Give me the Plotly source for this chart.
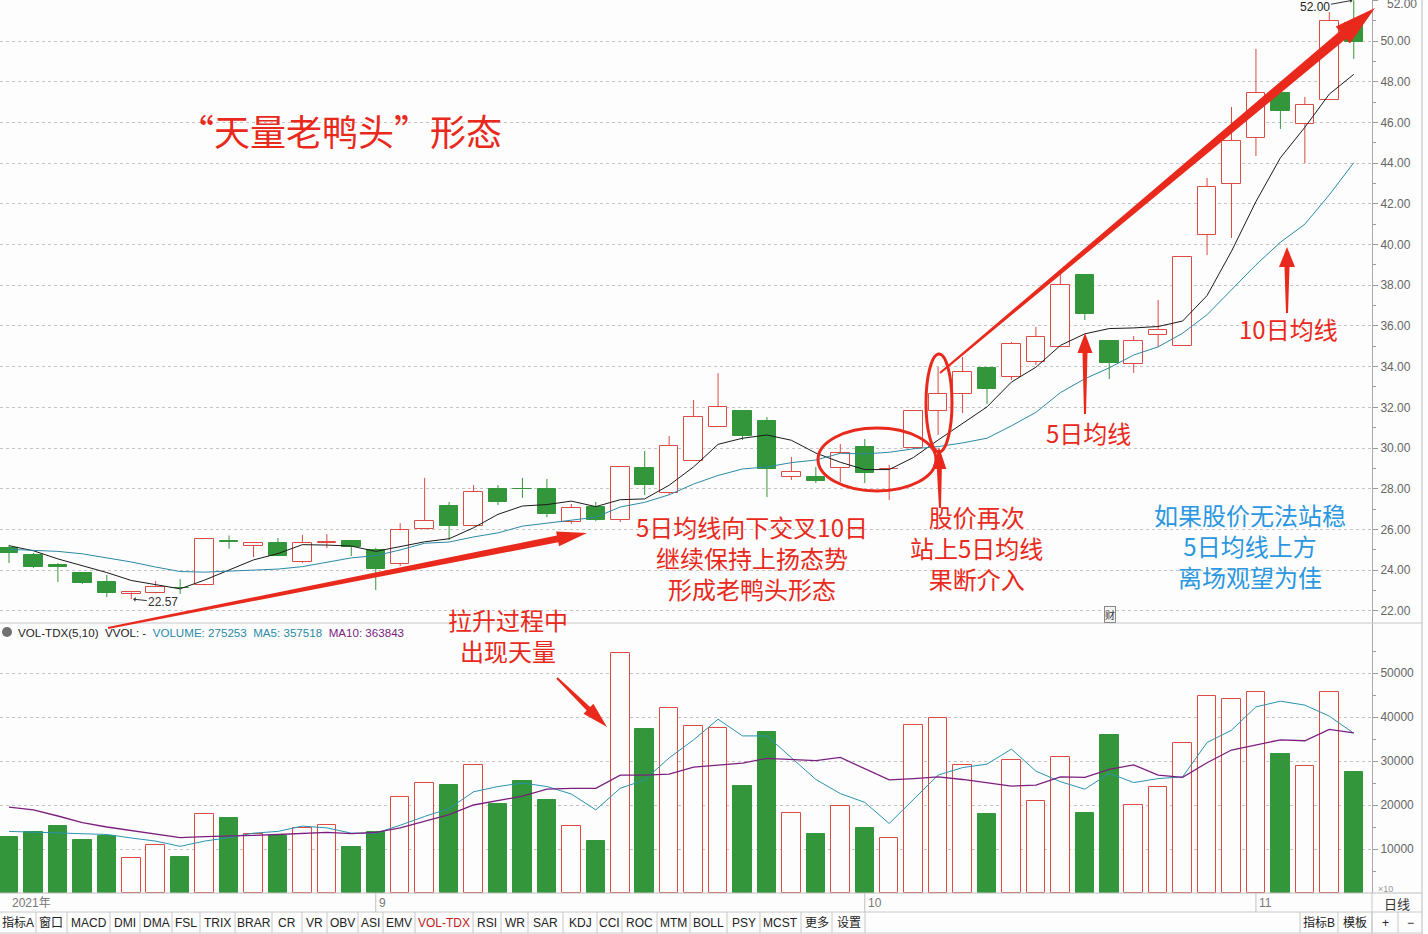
import math
import plotly.graph_objects as go

# ---------------- data ----------------
opens = [25.09, 24.74, 24.25, 23.86, 23.42, 22.85, 22.87, 23.14, 23.27, 25.40,
         25.18, 25.33, 24.40, 25.35, 25.43, 24.99, 24.30, 26.02, 27.15, 26.17,
         27.99, 28.00, 27.99, 26.36, 27.10, 26.46, 29.02, 27.79, 29.36, 31.03,
         31.82, 31.33, 28.58, 28.58, 29.02, 30.05, 28.95, 30.00, 31.82, 32.65,
         33.93, 33.49, 34.23, 34.96, 38.50, 35.26, 34.13, 35.55, 35.01, 40.47,
         42.97, 45.23, 47.44, 45.92, 47.10, 50.88]
highs = [25.23, 24.84, 24.35, 23.91, 23.76, 22.95, 23.47, 23.56, 25.55, 25.70,
         25.38, 25.58, 25.73, 25.77, 25.45, 25.10, 26.30, 28.53, 27.35, 28.18,
         28.18, 28.53, 28.48, 27.25, 27.35, 29.10, 29.85, 30.59, 32.36, 33.68,
         31.85, 31.52, 29.56, 29.07, 30.20, 30.44, 29.17, 31.87, 33.98, 34.47,
         33.95, 35.21, 35.95, 38.55, 38.52, 35.28, 35.50, 37.27, 39.39, 43.27,
         46.76, 49.61, 47.84, 47.25, 51.43, 52.00]
lows = [24.35, 24.10, 23.42, 23.32, 22.68, 22.57, 22.85, 22.83, 23.25, 25.05,
        24.64, 24.69, 24.35, 25.08, 24.69, 23.02, 24.20, 26.00, 25.48, 26.15,
        27.20, 27.55, 26.60, 26.27, 26.40, 26.36, 27.69, 27.69, 29.36, 31.03,
        30.39, 27.59, 28.43, 28.28, 28.33, 28.28, 27.44, 29.95, 30.64, 31.72,
        32.16, 33.34, 34.08, 34.96, 36.29, 33.39, 33.69, 34.96, 35.01, 39.48,
        40.32, 44.35, 45.68, 44.00, 47.10, 49.12]
closes = [24.84, 24.15, 24.15, 23.37, 22.87, 22.90, 23.17, 23.10, 25.53, 25.38,
          25.33, 24.69, 25.33, 25.40, 25.13, 24.05, 25.95, 26.41, 26.17, 27.84,
          27.35, 27.97, 26.76, 27.05, 26.46, 29.07, 28.18, 30.10, 31.52, 32.01,
          30.59, 28.97, 28.82, 28.38, 29.75, 28.77, 28.98, 31.82, 32.65, 33.73,
          32.90, 35.11, 35.45, 38.01, 36.58, 34.18, 35.26, 35.80, 39.39, 42.83,
          45.09, 47.44, 46.56, 46.86, 50.98, 49.95]
ma5 = [25.20, 24.95, 24.55, 24.20, 23.88, 23.49, 23.29, 23.08, 23.51, 24.02,
       24.50, 24.81, 25.25, 25.23, 25.18, 24.92, 25.17, 25.39, 25.54, 26.08,
       26.74, 27.15, 27.22, 27.39, 27.12, 27.46, 27.50, 28.17, 29.07, 30.18,
       30.48, 30.64, 30.38, 29.75, 29.30, 28.94, 28.94, 29.54, 30.39, 31.19,
       32.02, 33.24, 33.97, 35.04, 35.61, 35.87, 35.90, 35.97, 36.24, 37.49,
       39.67, 42.11, 44.26, 45.76, 47.39, 48.36]
ma10 = [25.02, 24.98, 24.92, 24.80, 24.60, 24.40, 24.15, 23.93, 23.90, 23.95,
        24.00, 24.05, 24.17, 24.37, 24.60, 24.71, 24.99, 25.32, 25.38, 25.63,
        25.83, 26.16, 26.30, 26.47, 26.60, 27.10, 27.33, 27.70, 28.23, 28.65,
        28.97, 29.07, 29.28, 29.41, 29.74, 29.71, 29.79, 29.96, 30.07, 30.25,
        30.48, 31.09, 31.75, 32.72, 33.40, 33.94, 34.57, 34.97, 35.64, 36.55,
        37.77, 39.00, 40.11, 41.00, 42.44, 44.02]
volumes = [12700, 13900, 15200, 12000, 13000, 8000, 10900, 8200, 18000, 17000,
           13400, 13000, 14800, 15500, 10500, 13900, 21800, 25000, 24500, 29100,
           20200, 25500, 21100, 15200, 11800, 54500, 37300, 42000, 37900, 37400,
           24300, 36600, 18100, 13400, 19800, 14800, 12400, 38100, 39700, 29200,
           18000, 30200, 20800, 30800, 18200, 35900, 20000, 24100, 34200, 44700,
           44100, 45600, 31600, 28800, 45600, 27500]
vol_ma5 = [14000, 13800, 13600, 13400, 13300, 12500, 11800, 10600, 11800, 12600,
           13600, 14000, 15200, 14800, 13600, 13600, 15400, 17400, 19200, 23000,
           24200, 25000, 24200, 22500, 18900, 23800, 25700, 30700, 34800, 39500,
           35700, 35700, 30700, 25800, 22600, 20600, 15800, 21300, 26800, 28500,
           29300, 32700, 27700, 25300, 23600, 27200, 25100, 26000, 26400, 34200,
           37000, 42300, 43600, 42700, 40200, 36300]
vol_ma10 = [19500, 18900, 17500, 16000, 15000, 14200, 13500, 12600, 12800, 12900,
            13100, 13300, 13600, 13800, 13500, 13800, 14800, 16300, 17800, 20000,
            21000, 22000, 23600, 23800, 23800, 26800, 26800, 27000, 28600, 29100,
            29500, 30600, 30400, 30100, 30800, 28300, 25700, 26000, 26400, 25800,
            25100, 24300, 24500, 26400, 26300, 28100, 29100, 26800, 26300, 29600,
            32500, 33600, 34800, 34600, 37200, 36400]
month_tick_index = [15, 35, 51]
month_tick_text = ["9", "10", "11"]
price_ticks = [22, 24, 26, 28, 30, 32, 34, 36, 38, 40, 42, 44, 46, 48, 50, 52]
vol_ticks = [10000, 20000, 30000, 40000, 50000]
toolbar_left = ["指标A", "窗口", "MACD", "DMI", "DMA", "FSL", "TRIX", "BRAR", "CR", "VR",
                "OBV", "ASI", "EMV", "VOL-TDX", "RSI", "WR", "SAR", "KDJ", "CCI", "ROC",
                "MTM", "BOLL", "PSY", "MCST", "更多", "设置"]
toolbar_right = ["指标B", "模板", "+", "−"]
legend_text = ("VOL-TDX(5,10)  VVOL: -  <span style='color:#2a8aa6'>VOLUME: 275253  MA5: 357518</span>"
               "  <span style='color:#7b1f7e'>MA10: 363843</span>")

# ---------------- layout constants ----------------
W, H = 1372.0, 893.0          # plot area in px
SPLIT = 622.0                 # price / volume border (px from top)
RED = "#dc4a44"
GREEN = "#33963a"
TXT_RED = "#e8291c"
BG = "#fdfdfd"
n = len(closes)
idx = list(range(n))


def P(px, py):
    return px / W, 1 - py / H


# ---------------- traces ----------------
up = [c >= o for o, c in zip(opens, closes)]
body_base = [min(o, c) for o, c in zip(opens, closes)]
body_h = [max(abs(c - o), 0.03) for o, c in zip(opens, closes)]
fills = [BG if u else GREEN for u in up]
edges = [RED if u else GREEN for u in up]

fig = go.Figure()

for want_up, col in [(True, RED), (False, GREEN)]:
    xs, ys = [], []
    for i in idx:
        if up[i] != want_up:
            continue
        top, bot = max(opens[i], closes[i]), min(opens[i], closes[i])
        xs += [i, i, None, i, i, None]
        ys += [highs[i], top, None, bot, lows[i], None]
    fig.add_trace(go.Scatter(x=xs, y=ys, mode="lines", line=dict(color=col, width=1),
                             xaxis="x", yaxis="y", hoverinfo="skip"))

fig.add_trace(go.Bar(x=idx, y=body_h, base=body_base, width=0.757,
                     marker=dict(color=fills, line=dict(color=edges, width=1)),
                     xaxis="x", yaxis="y"))
fig.add_trace(go.Scatter(x=idx, y=ma5, mode="lines", line=dict(color="#1a1a1a", width=1),
                         xaxis="x", yaxis="y"))
fig.add_trace(go.Scatter(x=idx, y=ma10, mode="lines", line=dict(color="#2a8aa6", width=1),
                         xaxis="x", yaxis="y"))

fig.add_trace(go.Bar(x=idx, y=volumes, width=0.757,
                     marker=dict(color=fills, line=dict(color=edges, width=1)),
                     xaxis="x2", yaxis="y2"))
fig.add_trace(go.Scatter(x=idx, y=vol_ma5, mode="lines", line=dict(color="#2a93b0", width=1),
                         xaxis="x2", yaxis="y2"))
fig.add_trace(go.Scatter(x=idx, y=vol_ma10, mode="lines", line=dict(color="#7b1f7e", width=1.3),
                         xaxis="x2", yaxis="y2"))

# ---------------- axes ----------------
x_lo = -9 / 24.45
x_hi = (W - 9) / 24.45
p_top = 50 + 41 / 20.35
p_bot = 50 - (SPLIT - 41) / 20.35
v_top = (H - SPLIT) / 4.4 * 1000
split_frac = 1 - SPLIT / H

axis_common = dict(showgrid=True, gridcolor="#c4c4c4", griddash="dot", gridwidth=1,
                   side="right", ticks="outside", ticklen=5, tickcolor="#9a9a9a",
                   showline=True, linecolor="#a8a8a8", linewidth=1, zeroline=False,
                   tickfont=dict(size=12, color="#666", family="Liberation Sans, Arial"))

fig.update_layout(
    width=1428, height=934,
    margin=dict(l=0, r=56, t=0, b=41, autoexpand=False),
    paper_bgcolor=BG, plot_bgcolor=BG,
    showlegend=False, barmode="overlay", bargap=0, hovermode=False,
    font=dict(family="Liberation Sans, Noto Sans CJK SC", color="#333"),
    xaxis=dict(domain=[0, 1], range=[x_lo, x_hi], anchor="y", showticklabels=False,
               showgrid=False, zeroline=False, ticks=""),
    xaxis2=dict(domain=[0, 1], range=[x_lo, x_hi], anchor="y2", matches="x",
                showticklabels=False, showgrid=False, zeroline=False, ticks=""),
    yaxis=dict(domain=[split_frac, 1], range=[p_bot, p_top], anchor="x",
               tickmode="array", tickvals=price_ticks, tickformat=".2f",
               minor=dict(tickmode="array", tickvals=[t + 1 for t in price_ticks[:-1]],
                          ticks="outside", ticklen=3, tickcolor="#9a9a9a", showgrid=False),
               **axis_common),
    yaxis2=dict(domain=[0, split_frac], range=[0, v_top], anchor="x2",
                tickmode="array", tickvals=vol_ticks, tickformat="d",
                minor=dict(tickmode="array", tickvals=[t - 5000 for t in vol_ticks] + [55000],
                           ticks="outside", ticklen=3, tickcolor="#9a9a9a", showgrid=False),
                **axis_common),
)

shapes = []
annotations = []


def hline(py, x0=0, x1=1422, color="#bdbdbd", width=1):
    a, b = P(x0, py)
    c, _ = P(x1, py)
    shapes.append(dict(type="line", xref="paper", yref="paper", x0=a, x1=c, y0=b, y1=b,
                       line=dict(color=color, width=width)))


def vline(px, y0, y1, color="#bdbdbd", width=1):
    a, b = P(px, y0)
    _, d = P(px, y1)
    shapes.append(dict(type="line", xref="paper", yref="paper", x0=a, x1=a, y0=b, y1=d,
                       line=dict(color=color, width=width)))


def arrow(tail, tip, w0, w1, hw, hl, color=TXT_RED):
    dx, dy = tip[0] - tail[0], tip[1] - tail[1]
    L = math.hypot(dx, dy)
    ux, uy = dx / L, dy / L
    nx, ny = -uy, ux
    bx, by = tip[0] - ux * hl, tip[1] - uy * hl
    pts = [(tail[0] + nx * w0 / 2, tail[1] + ny * w0 / 2),
           (bx + nx * w1 / 2, by + ny * w1 / 2),
           (bx + nx * hw / 2, by + ny * hw / 2),
           tip,
           (bx - nx * hw / 2, by - ny * hw / 2),
           (bx - nx * w1 / 2, by - ny * w1 / 2),
           (tail[0] - nx * w0 / 2, tail[1] - ny * w0 / 2)]
    path = "M " + " L ".join("%.5f,%.5f" % P(x, y) for x, y in pts) + " Z"
    shapes.append(dict(type="path", xref="paper", yref="paper", path=path,
                       fillcolor=color, line=dict(width=0)))


def ellipse(x0, y0, x1, y1):
    a, b = P(x0, y1)
    c, d = P(x1, y0)
    shapes.append(dict(type="circle", xref="paper", yref="paper", x0=a, x1=c, y0=b, y1=d,
                       line=dict(color=TXT_RED, width=3)))


def text(px, py, s, size, color=TXT_RED, xanchor="center", family="Noto Sans CJK SC", **kw):
    a, b = P(px, py)
    annotations.append(dict(xref="paper", yref="paper", x=a, y=b, text=s, showarrow=False,
                            xanchor=xanchor, yanchor="middle",
                            font=dict(size=size, color=color, family=family), **kw))


# frame lines
hline(SPLIT + 1, color="#c8c8c8")
hline(H, color="#bdbdbd")
hline(912, color="#c8c8c8")
hline(933, color="#c8c8c8")
vline(1422, 0, 934, color="#bdbdbd")
vline(1372, H, 934, color="#c8c8c8")

# top price label at the very edge of the axis
text(1385, 4, "%.2f" % price_ticks[-1], 12, color="#666", xanchor="left", family="Liberation Sans")

# month ticks / labels on the bottom axis
for i, t in zip(month_tick_index, month_tick_text):
    _, b0 = P(0, H)
    _, b1 = P(0, 912)
    shapes.append(dict(type="line", xref="x2", yref="paper", x0=i, x1=i, y0=b0, y1=b1,
                       line=dict(color="#c0c0c0", width=1)))
    annotations.append(dict(xref="x2", yref="paper", x=i, y=P(0, 903)[1], text=t,
                            showarrow=False, xanchor="left", yanchor="middle", xshift=1,
                            font=dict(size=12, color="#777", family="Liberation Sans")))
text(10, 903, "2021年", 12, color="#777", xanchor="left", family="Liberation Sans, Noto Sans CJK SC")
text(1397, 903, "日线", 13, color="#333")
text(1386, 889, "×10", 9, color="#999", family="Liberation Sans")

# toolbar
tb_left = [0, 36, 67, 110, 140, 172, 200, 235, 272, 302, 327, 358, 383, 415, 473, 501,
           528, 563, 597, 622, 657, 690, 727, 760, 801, 832, 865]
for k, lab in enumerate(toolbar_left):
    x0, x1 = tb_left[k], tb_left[k + 1]
    vline(x1, 912, 933, color="#c8c8c8")
    text((x0 + x1) / 2, 923, lab, 12, color="#c0201a" if lab == "VOL-TDX" else "#222",
         family="Liberation Sans, Noto Sans CJK SC")
tb_right = [1300, 1338, 1372, 1398, 1422]
for k, lab in enumerate(toolbar_right):
    x0, x1 = tb_right[k], tb_right[k + 1]
    vline(x0, 912, 933, color="#c8c8c8")
    text((x0 + x1) / 2, 923, lab, 12, color="#222", family="Liberation Sans, Noto Sans CJK SC")

# volume legend
a, b = P(7, 632)
r = 5 / W
shapes.append(dict(type="circle", xref="paper", yref="paper", x0=a - r, x1=a + r,
                   y0=b - 5 / H, y1=b + 5 / H, fillcolor="#707070", line=dict(width=0)))
text(16, 632, legend_text, 11.6, color="#222", xanchor="left", family="Liberation Sans")

# min / max labels
i_lo = lows.index(min(lows))
i_hi = highs.index(max(highs))
annotations.append(dict(xref="x", yref="y", x=i_lo + 0.08, y=lows[i_lo], text="%.2f" % lows[i_lo],
                        showarrow=True, arrowhead=1, arrowsize=0.8, arrowwidth=1, arrowcolor="#333",
                        ax=30, ay=3, font=dict(size=12, color="#333", family="Liberation Sans")))
annotations.append(dict(xref="x", yref="y", x=i_hi - 0.05, y=highs[i_hi], text="%.2f" % highs[i_hi],
                        showarrow=True, arrowhead=1, arrowsize=0.8, arrowwidth=1, arrowcolor="#333",
                        ax=-38, ay=7, font=dict(size=12, color="#222", family="Liberation Sans")))

# "财" marker
text(1110, 614, "财", 10, color="#333", bordercolor="#888", borderwidth=1, borderpad=0,
     bgcolor="#f4f4f4")

# red drawings
arrow((108, 628), (587, 533), 2, 7, 15, 30)
arrow((940, 373), (1375, 8), 2, 10, 22, 42)
arrow((940, 508), (939, 447), 2, 5, 14, 22)
arrow((1085, 414), (1085, 333), 2, 5, 15, 20)
arrow((1287, 313), (1287, 247), 2, 5, 16, 20)
arrow((557, 678), (607, 727), 2, 5, 14, 26)
ellipse(818, 428, 936, 491)
ellipse(926, 354, 952, 452)

# texts
text(340, 130, "“天量老鸭头”形态", 36)
text(752, 557, "5日均线向下交叉10日<br>继续保持上扬态势<br>形成老鸭头形态", 24)
text(976, 547, "股价再次<br>站上5日均线<br>果断介入", 24)
text(1088, 432, "5日均线", 24)
text(1288, 328, "10日均线", 24)
text(1250, 545, "如果股价无法站稳<br>5日均线上方<br>离场观望为佳", 24, color="#2b97e0")
text(508, 635, "拉升过程中<br>出现天量", 24)

fig.update_layout(shapes=shapes, annotations=annotations)
fig.write_html("out.html", config={"displayModeBar": False},
               post_script="document.body.style.margin='0';document.body.style.overflow='hidden';")
